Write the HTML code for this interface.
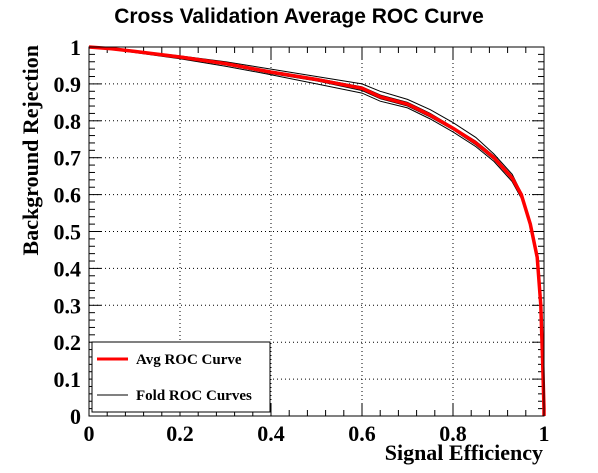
<!DOCTYPE html>
<html><head><meta charset="utf-8"><style>
html,body{margin:0;padding:0;background:#fff;}
svg{display:block;}
.t{font-family:"Liberation Serif",serif;font-weight:bold;font-size:22px;fill:#000;}
</style></head><body>
<svg id="c" width="598" height="473" viewBox="0 0 598 473">
<text x="299" y="23" text-anchor="middle" font-family="Liberation Sans, sans-serif" font-weight="bold" font-size="21">Cross Validation Average ROC Curve</text>
<g id="grid"></g>
<g id="ticks"></g>
<g id="folds"></g>
<g id="avg"></g>
<rect x="89" y="47" width="455" height="369" fill="none" stroke="#000" stroke-width="1"/>
<text class="t" x="543" y="460" text-anchor="end">Signal Efficiency</text>
<text class="t" transform="translate(38,45) rotate(-90)" text-anchor="end">Background Rejection</text>
<g>
<rect x="92" y="342" width="178" height="70" fill="#fff" stroke="#000" stroke-width="1"/>
<line x1="97" y1="359" x2="128" y2="359" stroke="#f00" stroke-width="3"/>
<text x="136" y="364" font-family="Liberation Serif, serif" font-weight="bold" font-size="15">Avg ROC Curve</text>
<line x1="97" y1="395" x2="128" y2="395" stroke="#000" stroke-width="1"/>
<text x="136" y="400" font-family="Liberation Serif, serif" font-weight="bold" font-size="15">Fold ROC Curves</text>
</g>
</svg>
<script>
const xTicks=[0,0.2,0.4,0.6,0.8,1];
const xTickLabels=["0","0.2","0.4","0.6","0.8","1"];
const yTicks=[0,0.1,0.2,0.3,0.4,0.5,0.6,0.7,0.8,0.9,1];
const yTickLabels=["0","0.1","0.2","0.3","0.4","0.5","0.6","0.7","0.8","0.9","1"];
const avgX=[0,0.05,0.1,0.2,0.3,0.4,0.5,0.6,0.64,0.7,0.75,0.8,0.85,0.89,0.93,0.95,0.97,0.985,0.993,0.997,1,1];
const avgY=[1,0.995,0.988,0.973,0.955,0.932,0.912,0.888,0.865,0.845,0.815,0.78,0.74,0.70,0.645,0.6,0.52,0.43,0.3,0.15,0.02,0];
const fold1Y=[1,0.996,0.99,0.976,0.96,0.94,0.92,0.9,0.88,0.858,0.83,0.795,0.755,0.71,0.655,0.605,0.52,0.43,0.3,0.15,0.02,0];
const fold2Y=[1,0.993,0.985,0.968,0.948,0.925,0.9,0.875,0.853,0.835,0.805,0.77,0.73,0.69,0.635,0.59,0.515,0.425,0.3,0.15,0.02,0];
const fold3Y=[1,0.995,0.988,0.974,0.957,0.935,0.915,0.892,0.87,0.85,0.82,0.783,0.745,0.705,0.65,0.6,0.525,0.435,0.3,0.15,0.02,0];
const fold4Y=[1,0.994,0.986,0.97,0.952,0.928,0.908,0.882,0.86,0.84,0.81,0.776,0.735,0.695,0.64,0.595,0.518,0.428,0.3,0.15,0.02,0];
const L=89,R=544,T=47,B=416;
const sx=v=>L+v*(R-L), sy=v=>B-v*(B-T);
const NS="http://www.w3.org/2000/svg";
function mk(tag,parent,attrs){const e=document.createElementNS(NS,tag);for(const k in attrs)e.setAttribute(k,attrs[k]);parent.appendChild(e);return e;}
const grid=document.getElementById('grid'),ticks=document.getElementById('ticks');
xTicks.forEach((v,i)=>{
 if(v>0&&v<1){const g=mk('line',grid,{x1:sx(v),x2:sx(v),y1:T,y2:B,stroke:'#000','stroke-dasharray':'1,3'});
 
 }
 const t=mk('text',ticks,{x:sx(v),y:B+25,'text-anchor':'middle',class:'t'});t.textContent=xTickLabels[i];
 
 
});
yTicks.forEach((v,i)=>{
 if(v>0&&v<1){const g=mk('line',grid,{x1:L,x2:R,y1:sy(v),y2:sy(v),stroke:'#000','stroke-dasharray':'1,3'});
 
 }
 const t=mk('text',ticks,{x:L-8,y:sy(v)+8,'text-anchor':'end',class:'t'});t.textContent=yTickLabels[i];
 
 
});
for(let i=0;i<=25;i++){const v=i*0.04;const big=i%5===0;
 mk('line',ticks,{x1:sx(v),x2:sx(v),y1:B,y2:B-(big?12:6),stroke:'#000'});
 mk('line',ticks,{x1:sx(v),x2:sx(v),y1:T,y2:T+(big?12:6),stroke:'#000'});}
for(let i=0;i<=50;i++){const v=i*0.02;const big=i%5===0;
 mk('line',ticks,{x1:L,x2:L+(big?12:6),y1:sy(v),y2:sy(v),stroke:'#000'});
 mk('line',ticks,{x1:R,x2:R-(big?12:6),y1:sy(v),y2:sy(v),stroke:'#000'});}
const path=ys=>avgX.map((x,i)=>(i?'L':'M')+sx(x).toFixed(1)+','+sy(ys[i]).toFixed(1)).join(' ');
const folds=document.getElementById('folds');
[fold1Y,fold2Y,fold3Y,fold4Y].forEach(ys=>{const p=mk('path',folds,{d:path(ys),fill:'none',stroke:'#000','stroke-width':1});
 
 });
const a=mk('path',document.getElementById('avg'),{d:path(avgY),fill:'none',stroke:'#f00','stroke-width':3.5});


</script>
</body></html>
